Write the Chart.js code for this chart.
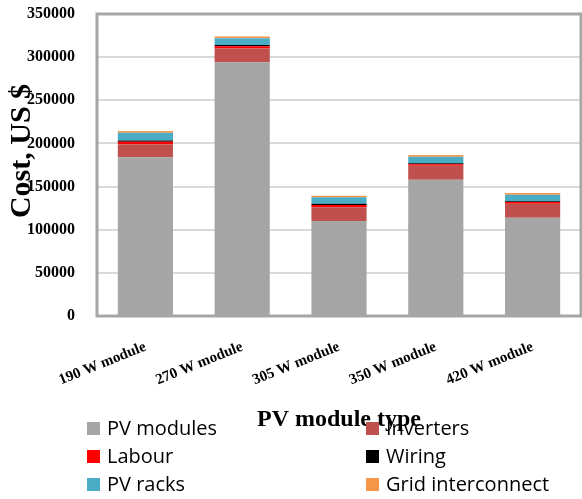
<!DOCTYPE html>
<html>
<head>
<meta charset="utf-8">
<script src="https://cdn.jsdelivr.net/npm/chart.js@4/dist/chart.umd.min.js"></script>
<style>
    body { margin: 0; background: #fff; }
    #wrap { width: 582px; height: 499px; }
</style>
</head>
<body>
<div id="wrap"><canvas id="costChart" width="582" height="499"></canvas></div>
<script>
// module types on the x axis
const moduleTypes = ['190 W module', '270 W module', '305 W module', '350 W module', '420 W module'];

// cost components, US $
const pvModules = [184000, 294000, 110000, 158000, 114000];
const inverters = [15000, 16000, 16000, 16000, 16000];
const labour = [3000, 2500, 2500, 2000, 2000];
const wiring = [1500, 1500, 1500, 1000, 1000];
const pvRacks = [9000, 8000, 7500, 7500, 7500];
const gridInterconnect = [2000, 2000, 2000, 2000, 2000];

const yTicks = [0, 50000, 100000, 150000, 200000, 250000, 300000, 350000];

const series = [
    { label: 'PV modules', data: pvModules, color: '#a5a5a5' },
    { label: 'Inverters', data: inverters, color: '#c0504d' },
    { label: 'Labour', data: labour, color: '#ff0000' },
    { label: 'Wiring', data: wiring, color: '#000000' },
    { label: 'PV racks', data: pvRacks, color: '#4bacc6' },
    { label: 'Grid interconnect', data: gridInterconnect, color: '#f79646' }
];

const serif = "'Liberation Serif', 'Times New Roman', serif";
const sans = "'Open Sans', 'Noto Sans', sans-serif";

// box round the plot area, y title and a two-column legend underneath
const extras = {
    id: 'extras',
    afterDatasetsDraw(chart) {
        const ctx = chart.ctx;
        const a = chart.chartArea;
        ctx.save();
        ctx.strokeStyle = '#a6a6a6';
        ctx.lineWidth = 3;
        ctx.strokeRect(a.left, a.top, a.right - a.left, a.bottom - a.top);
        ctx.restore();
    },
    afterDraw(chart) {
        const ctx = chart.ctx;
        ctx.save();
        ctx.translate(22, 151);
        ctx.rotate(-Math.PI / 2);
        ctx.font = 'bold 30px ' + serif;
        ctx.fillStyle = '#000';
        ctx.textAlign = 'center';
        ctx.textBaseline = 'middle';
        ctx.fillText('Cost, US $', 0, 0);
        ctx.restore();

        ctx.save();
        ctx.font = '20px ' + sans;
        ctx.textBaseline = 'middle';
        chart.data.datasets.forEach((ds, i) => {
            const x = i % 2 === 0 ? 87 : 366;
            const y = 428 + Math.floor(i / 2) * 28;
            ctx.fillStyle = ds.backgroundColor;
            ctx.fillRect(x, y - 6, 13, 13);
            ctx.fillStyle = '#000';
            ctx.fillText(ds.label, x + 20, y + 1);
        });
        ctx.restore();
    }
};

const ctx = document.getElementById('costChart').getContext('2d');
const costChart = new Chart(ctx, {
    type: 'bar',
    data: {
        labels: moduleTypes,
        datasets: series.map(s => ({
            label: s.label,
            data: s.data,
            backgroundColor: s.color,
            borderWidth: 0,
            barPercentage: 0.57,
            categoryPercentage: 1
        }))
    },
    options: {
        responsive: false,
        animation: false,
        layout: {
            padding: { top: 14, right: 1, bottom: 65, left: 0 }
        },
        plugins: {
            legend: { display: false },
            tooltip: { enabled: false }
        },
        scales: {
            x: {
                stacked: true,
                grid: { display: false },
                border: { display: false },
                ticks: {
                    color: '#000',
                    font: { family: serif, size: 15, weight: 'bold' },
                    minRotation: 22,
                    maxRotation: 22,
                    padding: 14
                },
                title: {
                    display: true,
                    text: 'PV module type',
                    color: '#000',
                    font: { family: serif, size: 24, weight: 'bold' },
                    padding: 0
                },
                afterFit(scale) {
                    scale.height = 118;
                    scale.paddingTop = 0;
                    scale.paddingBottom = 0;
                }
            },
            y: {
                stacked: true,
                min: 0,
                max: 350000,
                afterBuildTicks(scale) {
                    scale.ticks = yTicks.map(v => ({ value: v }));
                },
                grid: {
                    color: '#d9d9d9',
                    lineWidth: 2,
                    drawTicks: false
                },
                border: { display: false },
                ticks: {
                    color: '#000',
                    font: { family: serif, size: 16, weight: 'bold' },
                    padding: 22,
                    callback: v => String(v)
                },
                afterFit(scale) {
                    scale.width = 97;
                    scale.paddingTop = 0;
                    scale.paddingBottom = 0;
                }
            }
        }
    },
    plugins: [extras]
});
</script>
</body>
</html>
